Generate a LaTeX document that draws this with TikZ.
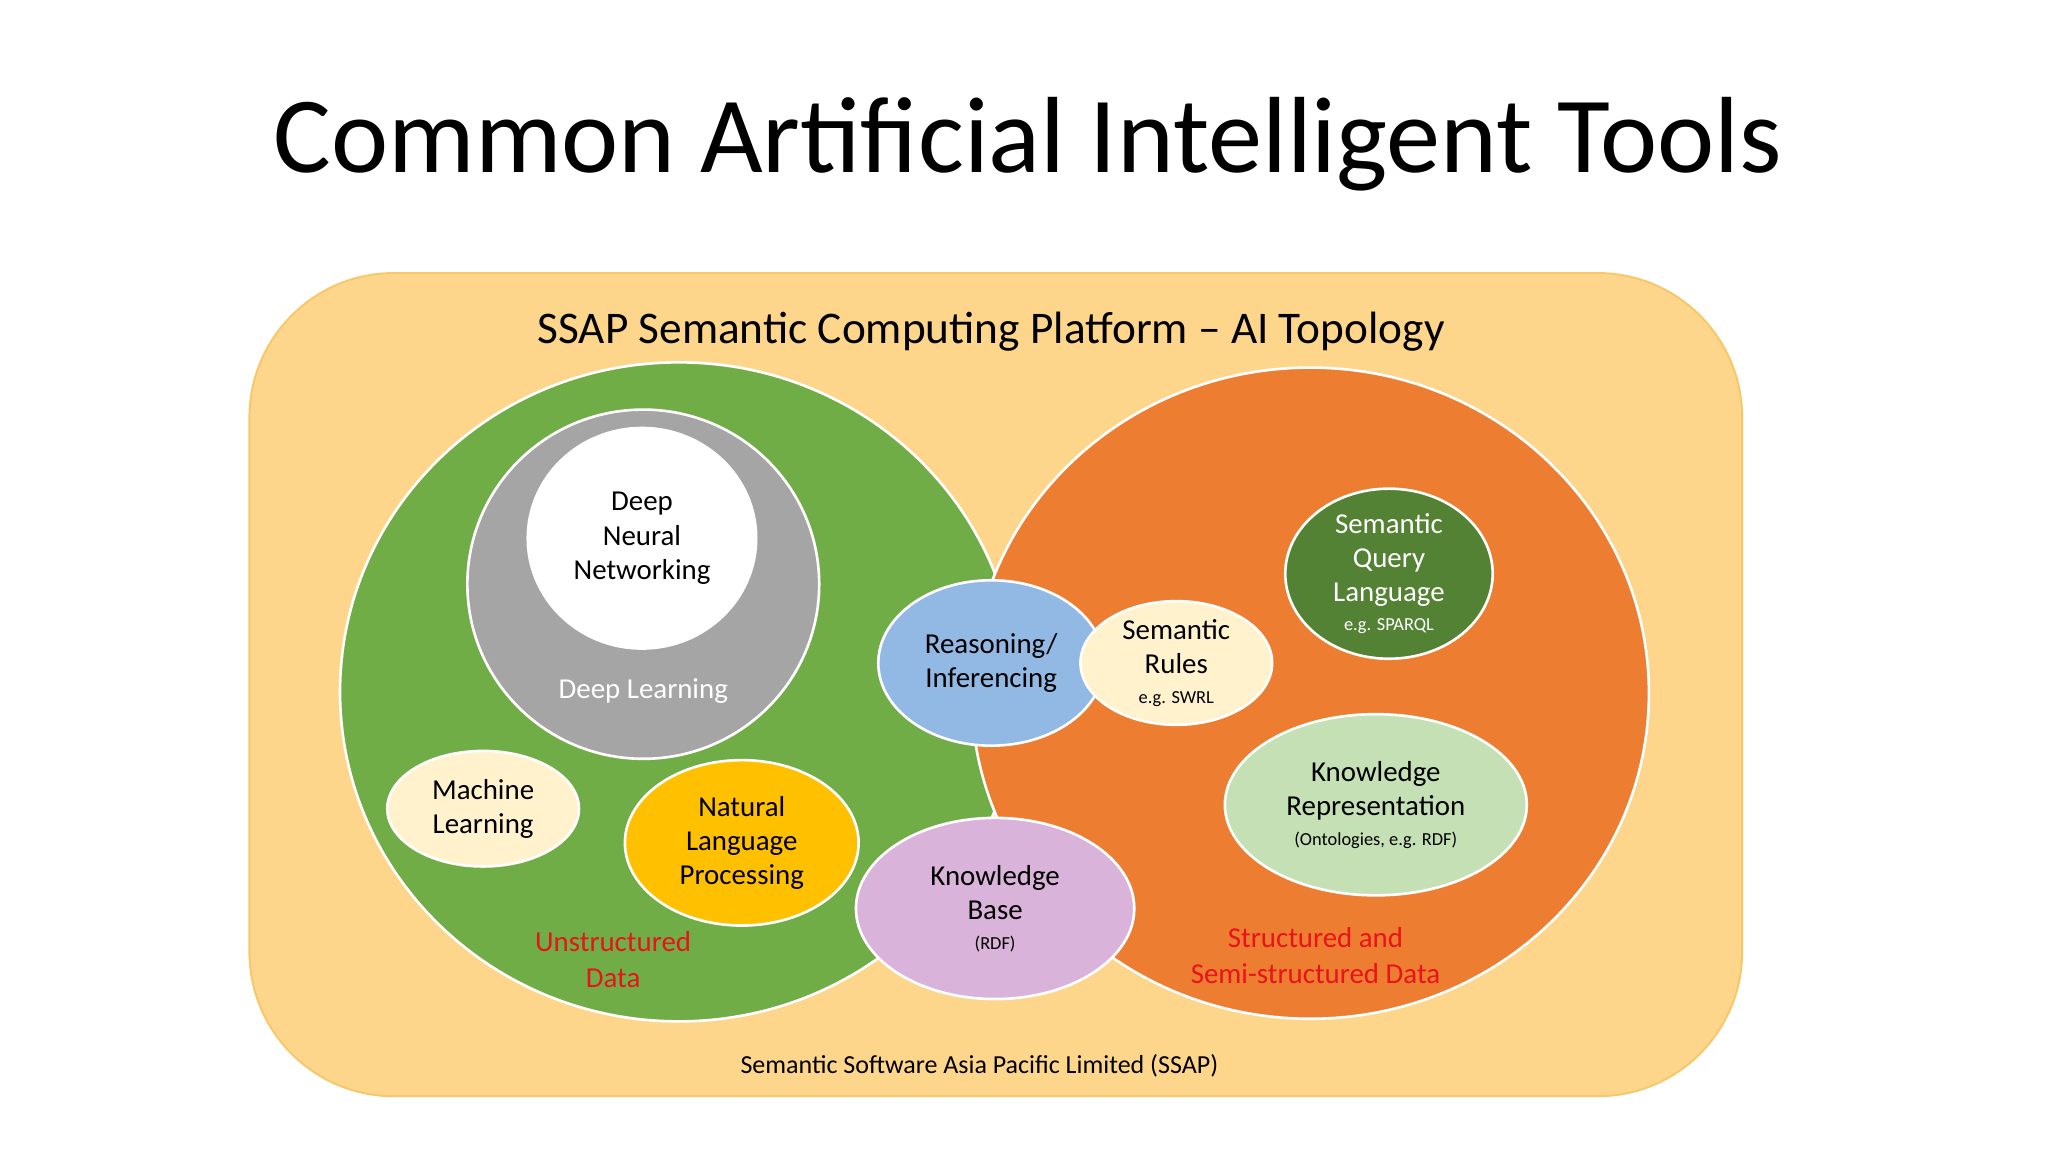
\documentclass[tikz,border=0pt]{standalone}
\usepackage{fontspec}
\setmainfont{Carlito}
\usetikzlibrary{shapes.geometric}
\definecolor{bgo}{HTML}{FDD68C}
\definecolor{bgb}{HTML}{F6C86A}
\definecolor{grn}{HTML}{70AD47}
\definecolor{org}{HTML}{ED7D31}
\definecolor{gry}{HTML}{A5A5A5}
\definecolor{cream}{HTML}{FFF2CC}
\definecolor{gold}{HTML}{FFC000}
\definecolor{blu}{HTML}{92B8E4}
\definecolor{dgrn}{HTML}{548235}
\definecolor{lgrn}{HTML}{C5E0B4}
\definecolor{pnk}{HTML}{D9B3D9}
\definecolor{redt}{HTML}{E8141B}
\tikzset{
  blob/.style={ellipse, draw=white, line width=2pt, inner sep=0pt, align=center, font=\fontsize{22}{26}\selectfont},
}
\begin{document}
\begin{tikzpicture}[x=1pt,y=-1pt]
\useasboundingbox (0,0) rectangle (1560,877.5);
\node (title) at (783,110) {\fontsize{82.5}{90}\selectfont Common Artificial Intelligent Tools};
\path[fill=bgo, draw=bgb, line width=1.5pt, rounded corners=110pt] (190,208) rectangle (1327,835);
\node (sub) at (755,253) {\fontsize{34.5}{38}\selectfont SSAP Semantic Computing Platform – AI Topology};
\node (foot) at (746,812) {\fontsize{19.8}{22}\selectfont Semantic Software Asia Pacific Limited (SSAP)};
\node[blob, fill=grn, minimum width=516pt, minimum height=502pt] (green) at (517,527) {};
\node[blob, fill=org, minimum width=516pt, minimum height=496pt] (orange) at (998,528) {};
\node[blob, fill=gry, minimum width=268pt, minimum height=266pt] (dl) at (490,445) {};
\node[text=white, font=\fontsize{22}{24}\selectfont] (dllab) at (490,526) {Deep Learning};
\node[blob, fill=white, minimum width=174pt, minimum height=168pt] (dnn) at (489,410) {Deep\\Neural\\Networking};
\node[blob, fill=cream, minimum width=146pt, minimum height=88pt] (ml) at (368,616) {Machine\\Learning};
\node[blob, fill=gold, minimum width=178pt, minimum height=126pt] (nlp) at (565,642) {Natural\\Language\\Processing};
\node[blob, fill=blu, minimum width=172pt, minimum height=126pt] (reas) at (755,505) {Reasoning/\\Inferencing};
\node[blob, fill=cream, minimum width=146pt, minimum height=90pt] (rules) at (896,505) {Semantic\\Rules\\[-3pt]{\fontsize{14}{15}\selectfont e.g. SWRL}};
\node[blob, fill=dgrn, text=white, minimum width=158pt, minimum height=118pt] (sql) at (1058,437) {Semantic\\Query\\Language\\[-4pt]{\fontsize{14}{15}\selectfont e.g. SPARQL}};
\node[blob, fill=lgrn, minimum width=230pt, minimum height=138pt] (kr) at (1048,613) {Knowledge\\Representation\\[-3pt]{\fontsize{14}{15}\selectfont (Ontologies, e.g. RDF)}};
\node[blob, fill=pnk, minimum width=212pt, minimum height=138pt] (kb) at (758,692) {Knowledge\\Base\\[-3pt]{\fontsize{14}{15}\selectfont (RDF)}};
\node[text=redt, align=center, font=\fontsize{22}{27}\selectfont] (uns) at (467,731) {Unstructured\\Data};
\node[text=redt, align=center, font=\fontsize{22}{27}\selectfont] (str) at (1002,728) {Structured and\\Semi-structured Data};
\end{tikzpicture}
\end{document}
